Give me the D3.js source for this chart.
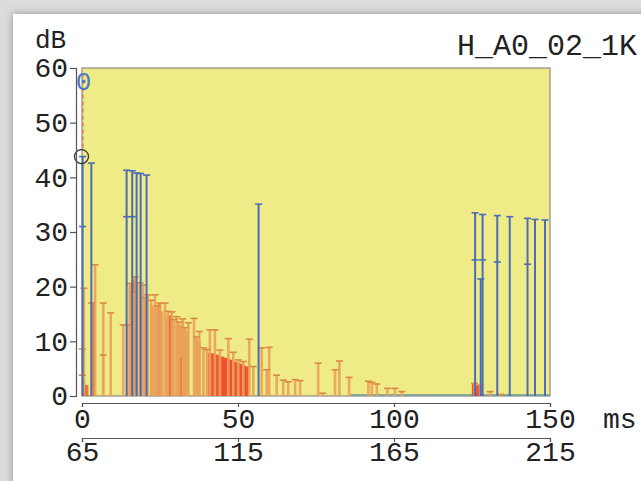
<!DOCTYPE html>
<html lang="en">
<head>
    <meta charset="UTF-8">
    <title>H_A0_02_1K</title>
    <script type="text/javascript" src="https://d3js.org/d3.v7.min.js"></script>
    <style>
        body { margin: 0; background: #d8d8d8; }
        svg { display: block; }
        .axis text { font-family: "Liberation Mono", "DejaVu Sans Mono", monospace; font-size: 28px; fill: #222; }
        .axis path, .axis line { stroke: #555; stroke-width: 1.2; }
    </style>
</head>
<body>
<svg width="641" height="481"></svg>
<script>
    // orange reflections: time (ms) and level (dB)
    var orangeMs = [0.1, 0.1, 0.6, 3.1, 4.2, 6.8, 6.8, 9.2, 13.2, 14.6, 15.4, 16.6, 17.0, 18.6, 19.6, 20.3, 21.1, 22.2, 23.4,
        24.2, 25.0, 26.6, 27.5, 28.8, 29.5, 30.4, 31.2, 32.3, 33.0, 34.1, 35.9, 36.7, 37.6, 38.9, 40.0, 41.0, 42.6, 44.2, 46.9, 48.5, 50.1,
        51.7, 53.6, 54.9, 57.6, 59.2, 60.0, 62.4, 64.5, 66.1, 68.3, 69.9, 75.7, 77.2, 81.1, 82.5, 85.6,
        91.8, 92.9, 94.5, 97.9, 100.3, 102.5, 125.8, 127.6, 130.8, 134.0];
    var orangeDb = [8.6, 3.8, 19.7, 17.0, 24.0, 17.0, 7.5, 15.2, 13.0, 13.0, 20.6, 19.0, 21.8, 20.7, 20.3, 18.0, 18.5, 17.5, 18.5,
        16.5, 17.0, 17.0, 15.5, 15.4, 14.0, 14.5, 13.5, 14.1, 12.5, 13.4, 14.2, 10.8, 11.8, 8.8, 8.5, 12.1, 12.1, 8.4, 10.5, 8.0, 6.6,
        6.3, 10.4, 5.4, 8.8, 4.8, 8.9, 3.8, 2.9, 2.6, 3.0, 2.8, 6.0, 0.5, 4.8, 6.4, 3.4,
        2.7, 2.5, 2.2, 1.4, 1.4, 0.8, 2.3, 2.0, 0.8, 0.3];

    // broad orange energy under the stems: time (ms) and level (dB)
    var fillMs = [15.5, 16.5, 17.5, 19.5, 20.5, 22.5, 23.5, 24.5, 25.5, 27.5, 28.5, 30.5, 31.5, 32.5, 33.5, 36.5, 37.5];
    var fillDb = [20.0, 21.0, 20.5, 18.0, 17.5, 16.5, 16.0, 16.0, 15.5, 14.5, 14.0, 13.0, 13.0, 12.5, 12.0, 10.5, 10.0];

    // dense red energy: time (ms) and level (dB)
    var redMs = [0.5, 1.5, 3.5, 16.0, 17.0, 24.8, 28.3, 31.5, 41, 42, 43, 44, 45, 46, 47, 48, 49, 50, 51, 52, 53, 125.5, 126.5, 127.5];
    var redDb = [2.5, 2.0, 17.0, 20.5, 21.5, 17.0, 14.8, 7.0, 7.9, 7.8, 7.6, 7.4, 7.2, 7.0, 6.8, 6.6, 6.3, 6.1, 5.9, 5.6, 5.4, 2.2, 2.0, 1.8];

    // blue reflections: time (ms), level (dB), middle marker (dB, 0 = none)
    var blueMs = [0.2, 3.0, 14.3, 16.1, 17.5, 18.8, 20.7, 56.6, 126.0, 127.8, 128.4, 133.1, 137.1, 142.8, 145.2, 148.4];
    var blueDb = [43.8, 42.6, 41.3, 41.2, 40.8, 40.7, 40.4, 35.1, 33.5, 21.4, 33.2, 33.0, 32.8, 32.5, 32.3, 32.2];
    var blueMid = [31.0, 0, 32.8, 32.8, 0, 0, 0, 0, 24.9, 0, 24.9, 24.5, 0, 24.1, 0, 0];

    var msTicks = [0, 50, 100, 150];
    var dbTicks = [0, 10, 20, 30, 40, 50, 60];
    var delayTicks = [65, 115, 165, 215];

    var svg = d3.select("svg");

    // page background with the white sheet
    var defs = svg.append("defs");
    var shadow = defs.append("filter").attr("id", "shadow")
        .attr("x", "-10%").attr("y", "-10%").attr("width", "120%").attr("height", "120%");
    shadow.append("feDropShadow").attr("dx", 0).attr("dy", 0)
        .attr("stdDeviation", 4).attr("flood-color", "#888").attr("flood-opacity", 0.9);

    svg.append("rect").attr("width", 641).attr("height", 481).attr("fill", "#dcdcdc");
    svg.append("rect").attr("x", 13).attr("y", 14).attr("width", 700).attr("height", 520)
        .attr("fill", "white").attr("filter", "url(#shadow)");

    var x = d3.scaleLinear().domain([0, 150]).range([82, 550]);
    var x2 = d3.scaleLinear().domain([65, 215]).range([82, 550]);
    var y = d3.scaleLinear().domain([0, 60]).range([396, 68]);

    // plot area
    svg.append("rect")
        .attr("x", x(0)).attr("y", y(60))
        .attr("width", x(150) - x(0)).attr("height", y(0) - y(60))
        .attr("fill", "#efeb86").attr("stroke", "#777").attr("stroke-width", 1);

    var plot = svg.append("g");

    // faint baseline
    plot.append("line")
        .attr("x1", x(86)).attr("x2", x(150)).attr("y1", y(0) - 1).attr("y2", y(0) - 1)
        .attr("stroke", "#6c9aa0").attr("stroke-width", 1.5);

    var orange = orangeMs.map(function (d, i) { return { t: d, v: orangeDb[i] }; });
    var fill = fillMs.map(function (d, i) { return { t: d, v: fillDb[i] }; });
    var red = redMs.map(function (d, i) { return { t: d, v: redDb[i] }; });
    var blue = blueMs.map(function (d, i) { return { t: d, v: blueDb[i], m: blueMid[i] }; });

    // broad orange energy
    plot.selectAll(".fill")
        .data(fill)
        .enter()
        .append("rect")
        .attr("class", "fill")
        .attr("x", function (d) { return x(d.t - 0.6); })
        .attr("y", function (d) { return y(d.v); })
        .attr("width", function (d) { return x(d.t + 0.6) - x(d.t - 0.6); })
        .attr("height", function (d) { return y(0) - y(d.v); })
        .attr("fill", "#ea9450")
        .attr("fill-opacity", 0.75);

    // red energy
    plot.selectAll(".red")
        .data(red)
        .enter()
        .append("rect")
        .attr("class", "red")
        .attr("x", function (d) { return x(d.t - 0.55); })
        .attr("y", function (d) { return y(d.v); })
        .attr("width", function (d) { return x(d.t + 0.55) - x(d.t - 0.55); })
        .attr("height", function (d) { return y(0) - y(d.v); })
        .attr("fill", function (d) { return d.t < 35 ? "#e6602c" : "#f03822"; })
        .attr("fill-opacity", 0.85);

    // orange stems
    plot.selectAll(".ostem")
        .data(orange)
        .enter()
        .append("line")
        .attr("class", "ostem")
        .attr("x1", function (d) { return x(d.t); })
        .attr("x2", function (d) { return x(d.t); })
        .attr("y1", function (d) { return y(d.v); })
        .attr("y2", y(0))
        .attr("stroke", "#e9a25a")
        .attr("stroke-width", 2.6)
        .attr("stroke-opacity", 0.9);

    plot.selectAll(".ocap")
        .data(orange)
        .enter()
        .append("line")
        .attr("class", "ocap")
        .attr("x1", function (d) { return x(d.t) - 3.5; })
        .attr("x2", function (d) { return x(d.t) + 3.5; })
        .attr("y1", function (d) { return y(d.v); })
        .attr("y2", function (d) { return y(d.v); })
        .attr("stroke", "#d98a44")
        .attr("stroke-width", 1.6);

    // blue stems
    plot.selectAll(".bstem")
        .data(blue)
        .enter()
        .append("line")
        .attr("class", "bstem")
        .attr("x1", function (d) { return x(d.t); })
        .attr("x2", function (d) { return x(d.t); })
        .attr("y1", function (d) { return y(d.v); })
        .attr("y2", y(0))
        .attr("stroke", "#4a6db5")
        .attr("stroke-width", 2);

    plot.selectAll(".bcap")
        .data(blue)
        .enter()
        .append("line")
        .attr("class", "bcap")
        .attr("x1", function (d) { return x(d.t) - 3.5; })
        .attr("x2", function (d) { return x(d.t) + 3.5; })
        .attr("y1", function (d) { return y(d.v); })
        .attr("y2", function (d) { return y(d.v); })
        .attr("stroke", "#4a6db5")
        .attr("stroke-width", 1.6);

    plot.selectAll(".bmid")
        .data(blue.filter(function (d) { return d.m > 0; }))
        .enter()
        .append("line")
        .attr("class", "bmid")
        .attr("x1", function (d) { return x(d.t) - 3.5; })
        .attr("x2", function (d) { return x(d.t) + 3.5; })
        .attr("y1", function (d) { return y(d.m); })
        .attr("y2", function (d) { return y(d.m); })
        .attr("stroke", "#4a6db5")
        .attr("stroke-width", 1.6);

    // direct sound marker
    plot.append("line")
        .attr("x1", x(0) + 1).attr("x2", x(0) + 1)
        .attr("y1", y(59)).attr("y2", y(45))
        .attr("stroke", "#e8784e").attr("stroke-width", 1.4)
        .style("stroke-dasharray", ("4,3"));

    plot.append("circle")
        .attr("cx", x(0) - 0.5).attr("cy", y(43.8)).attr("r", 7)
        .attr("fill", "none").attr("stroke", "#333").attr("stroke-width", 1.3);

    plot.append("text")
        .attr("x", x(0) + 1.5).attr("y", y(56))
        .attr("text-anchor", "middle")
        .attr("font-family", "Liberation Mono, monospace")
        .attr("font-size", "26px")
        .attr("fill", "#4a78c4")
        .text("0");

    // axes
    svg.append("g")
        .attr("class", "axis")
        .attr("transform", "translate(76,0)")
        .call(d3.axisLeft(y).tickValues(dbTicks).tickSize(6).tickPadding(2));

    svg.append("g")
        .attr("class", "axis")
        .attr("transform", "translate(0,403)")
        .call(d3.axisBottom(x).tickValues(msTicks).tickSize(4).tickPadding(1)
            .tickSizeOuter(4));

    svg.append("g")
        .attr("class", "axis")
        .attr("transform", "translate(0,438)")
        .call(d3.axisBottom(x2).tickValues(delayTicks).tickSize(4).tickPadding(-1)
            .tickSizeOuter(4));

    var labelFont = "Liberation Mono, monospace";
    svg.append("text").attr("x", 35).attr("y", 48)
        .attr("font-family", labelFont).attr("font-size", "26px").attr("fill", "#222")
        .text("dB");
    svg.append("text").attr("x", 603).attr("y", 428)
        .attr("font-family", labelFont).attr("font-size", "28px").attr("fill", "#222")
        .text("ms");
    svg.append("text").attr("x", 637).attr("y", 55)
        .attr("text-anchor", "end")
        .attr("font-family", labelFont).attr("font-size", "30px").attr("fill", "#222")
        .text("H_A0_02_1K");
</script>
</body>
</html>
